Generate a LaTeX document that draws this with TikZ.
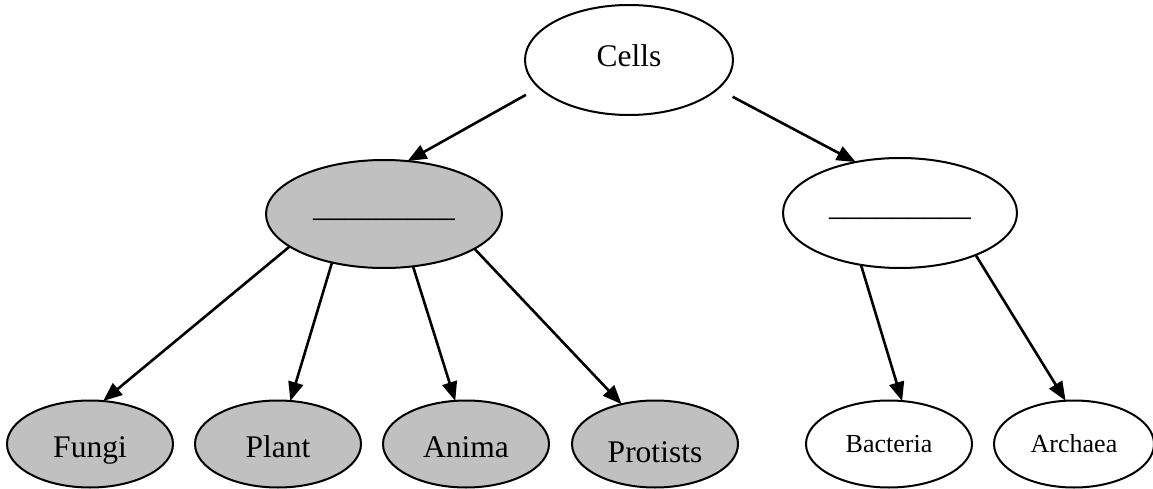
\documentclass[tikz,border=0pt]{standalone}
\usepackage{fontspec}
\setmainfont{Liberation Serif}
\usetikzlibrary{shapes.geometric,arrows.meta}
\definecolor{cellgray}{HTML}{C0C0C0}
\begin{document}
\begin{tikzpicture}[x=1pt,y=-1pt,
  oval/.style={ellipse, draw=black, line width=2pt, inner sep=0pt, outer sep=0pt,
    font=\fontsize{31.5}{36}\selectfont},
  leaf/.style={oval, minimum width=166pt, minimum height=87pt},
  smallleaf/.style={leaf, font=\fontsize{26}{30}\selectfont},
  grayfill/.style={fill=cellgray},
  th/.style 2 args={text height=#1pt, text depth=#2pt},
  arr/.style={line width=2.6pt, -{Triangle[length=19pt,width=15pt]}}
]
\useasboundingbox (0,0) rectangle (1153,489);

\node[oval, minimum width=208pt, minimum height=110pt, th={22}{8}] (cells) at (629,60) {Cells};
\node[oval, grayfill, minimum width=236pt, minimum height=108pt, th={10}{5}] (euk) at (384,214) {\_\_\_\_\_\_\_\_\_};
\node[oval, minimum width=234pt, minimum height=110pt, th={10}{5}] (pro) at (900,213) {\_\_\_\_\_\_\_\_\_};

\node[leaf, grayfill, th={26}{0}] (fungi) at (90,444) {Fungi};
\node[leaf, grayfill, th={26}{0}] (plant) at (278,444) {Plant};
\node[leaf, grayfill, th={26}{0}] (anima) at (466,444) {Anima};
\node[leaf, grayfill, th={36}{0}] (protists) at (655,444) {Protists};
\node[smallleaf, th={16}{0}] (bacteria) at (889,444) {Bacteria};
\node[smallleaf, minimum width=160pt, th={16}{0}] (archaea) at (1074,444) {Archaea};

\draw[arr, shorten <=15pt] (cells.197.8) -- (euk.66.8);
\draw[arr, shorten <=17pt] (cells.342.9) -- (pro.131);

\draw[arr] (euk.199.4) -- (fungi.73.5);
\draw[arr] (euk.223.3) -- (plant.74.7);
\draw[arr] (euk.299.5) -- (anima.104);
\draw[arr] (euk.339.9) -- (protists.130);

\draw[arr] (pro.233.1) -- (bacteria.73.5);
\draw[arr] (pro.331.7) -- (archaea.101.6);
\end{tikzpicture}
\end{document}
